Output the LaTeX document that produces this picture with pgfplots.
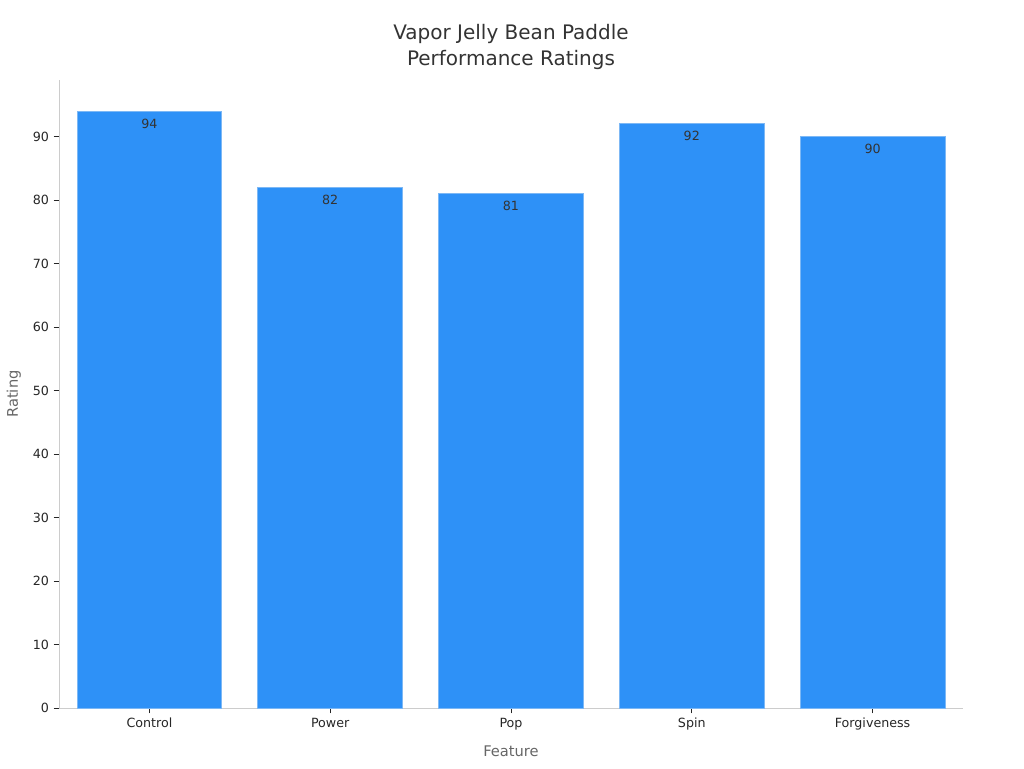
\documentclass[border=0pt]{standalone}
\usepackage{pgfplots}
\pgfplotsset{compat=1.18}
\usepackage{fontspec}
\setmainfont{DejaVu Sans}
\definecolor{barblue}{HTML}{2E91F7}
\definecolor{baredge}{HTML}{7DB8F5}
\definecolor{axgray}{HTML}{CCCCCC}
\definecolor{ticktext}{HTML}{262626}
\definecolor{labgray}{HTML}{666666}
\definecolor{titlegray}{HTML}{333333}
\begin{document}
\begin{tikzpicture}
\useasboundingbox (-44.25pt,-45pt) rectangle (723.75pt,531pt);
\begin{axis}[
  at={(0,0)}, anchor=south west,
  scale only axis, width=678pt, height=471pt,
  xmin=-0.5, xmax=4.5, ymin=0, ymax=98.9,
  axis lines*=left,
  axis line style={axgray, line width=0.6pt},
  xtick={0,1,2,3,4},
  xticklabels={Control,Power,Pop,Spin,Forgiveness},
  ytick={0,10,20,30,40,50,60,70,80,90},
  tick style={ticktext, line width=0.6pt},
  major tick length=4pt,
  tick align=outside,
  every tick label/.append style={font=\fontsize{9.5}{11}\selectfont, text=ticktext},
  /pgf/number format/assume math mode=true,
  xlabel={Feature}, ylabel={Rating},
  xlabel style={font=\fontsize{11}{13}\selectfont, text=labgray, yshift=-5pt},
  ylabel style={font=\fontsize{11}{13}\selectfont, text=labgray, yshift=2pt},
  title={Vapor Jelly Bean Paddle\\Performance Ratings},
  title style={font=\fontsize{15}{19.5}\selectfont, text=titlegray, align=center, yshift=-2pt},
  ybar, bar width=0.8,
  bar shift=0pt,
  clip=false,
]
\addplot[fill=barblue, draw=baredge, line width=0.6pt,
  nodes near coords,
  every node near coord/.append style={font=\fontsize{9.5}{11}\selectfont, text=titlegray, anchor=north, yshift=-2pt},
] coordinates {(0,94) (1,82) (2,81) (3,92) (4,90)};
\end{axis}
\end{tikzpicture}
\end{document}
